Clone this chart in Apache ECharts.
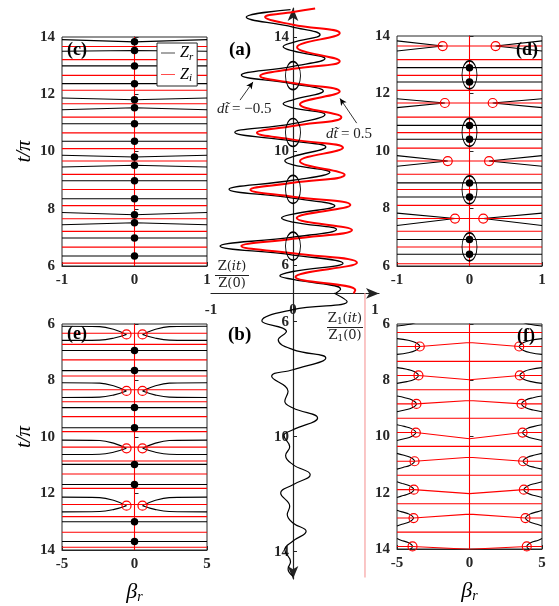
<!DOCTYPE html>
<html>
<head>
<meta charset="UTF-8">
<title></title>
<script src="https://cdn.jsdelivr.net/npm/echarts@6/dist/echarts.min.js"></script>
<style>
body{margin:0;background:#fff}
#main{width:559px;height:606px}
</style>
</head>
<body>
<div id="main"></div>
<script>
// ---- panel (a): Z(it)/Z(0), black dt=-0.5, red dt=0.5 (t/pi upward) ----
var aBlackT = [5.00, 5.15, 5.49, 5.62, 5.77, 6.06, 6.35, 6.665, 6.98, 7.25, 7.51, 7.65, 7.79, 8.08, 8.35, 8.665, 8.98, 9.26, 9.52, 9.665, 9.81, 10.15, 10.36, 10.665, 10.97, 11.29, 11.53, 11.67, 11.81, 12.12, 12.37, 12.68, 12.99, 13.26, 13.53, 13.68, 13.83, 14.10, 14.37, 14.72, 14.98];
var aBlackX = [0.52, 0.58, 0, -0.16, 0, 0.61, 0, -0.89, 0, 0.53, 0, -0.14, 0, 0.51, 0, -0.78, 0, 0.45, 0, -0.10, 0, 0.40, 0, -0.71, 0, 0.39, 0, -0.12, 0, 0.37, 0, -0.63, 0, 0.39, 0, -0.12, 0, 0.33, 0, -0.57, -0.03];
var aRedT = [5.00, 5.12, 5.58, 6.08, 6.41, 6.665, 6.92, 7.23, 7.65, 8.11, 8.40, 8.645, 8.89, 9.17, 9.65, 10.12, 10.41, 10.65, 10.89, 11.20, 11.65, 12.10, 12.40, 12.65, 12.90, 13.17, 13.66, 14.15, 14.45, 14.72, 14.90, 15.02];
var aRedX = [0.74, 0.76, 0.03, 0.78, 0, -0.63, 0, 0.72, 0.045, 0.70, 0, -0.52, 0, 0.63, 0.085, 0.61, 0, -0.44, 0, 0.59, 0.085, 0.57, 0, -0.40, 0, 0.57, 0.05, 0.57, 0, -0.34, 0, 0.27];
var aEllipseT = [6.665, 8.66, 10.66, 12.66];
var abTicks = [6, 10, 14];
var abXTicks = [-1, 0, 1];

// ---- panel (b): Z1(it)/Z1(0) (t/pi downward) ----
var bT = [5.00, 5.30, 5.58, 5.97, 6.34, 6.63, 6.97, 7.26, 7.67, 7.90, 8.42, 8.77, 9.00, 9.35, 9.76, 9.96, 10.35, 10.65, 10.97, 11.32, 11.67, 11.96, 12.42, 12.71, 13.00, 13.29, 13.63, 13.93, 14.35, 14.60, 14.85];
var bX = [0.50, 0.66, 0, -0.38, -0.08, -0.18, 0, 0.40, 0, -0.26, -0.06, -0.10, 0, 0.30, 0, -0.11, -0.04, -0.09, 0, 0.21, 0, -0.15, -0.04, -0.07, 0, 0.16, 0, -0.10, -0.03, -0.06, 0];
var bRedX = 0.878;

// ---- panel (c) ----
var cBlackBent = [[13.91, 13.83], [13.50, 13.53], [11.87, 11.81], [11.46, 11.53], [9.87, 9.81], [9.46, 9.52], [7.87, 7.79], [7.44, 7.51]];  // [edge, centre]
var cBlackFlat = [12.99, 12.37, 10.97, 10.36, 8.98, 8.35, 6.98, 6.35];
var cRed = [13.67, 13.21, 12.66, 12.14, 11.67, 11.20, 10.65, 10.10, 9.67, 9.20, 8.67, 8.11, 7.65, 7.21, 6.66, 6.10];
var cZeros = [13.83, 13.53, 12.99, 12.37, 11.81, 11.53, 10.97, 10.36, 9.81, 9.52, 8.98, 8.35, 7.79, 7.51, 6.98, 6.35];

// ---- panel (d) ----
var dBlackFlat = [12.90, 12.40, 10.89, 10.41, 8.89, 8.40, 6.92, 6.41];
var dRed = [13.65, 13.18, 12.63, 12.11, 11.67, 11.18, 10.64, 10.10, 9.65, 9.19, 8.66, 8.11, 7.65, 7.21, 6.66, 6.08];
var dRowT = [13.65, 11.67, 9.65, 7.65];
var dRowL = [-0.37, -0.34, -0.30, -0.20];
var dRowR = [0.36, 0.32, 0.27, 0.19];
var dRowUp = [13.83, 11.82, 9.84, 7.84];
var dRowDn = [13.48, 11.51, 9.47, 7.41];
var dEllipseT = [12.65, 10.65, 8.65, 6.665];

// ---- panel (e) (t/pi downward) ----
var eRowT = [6.37, 8.37, 10.40, 12.43];
var eRowB = [0.55, 0.55, 0.55, 0.55];
var eRowUp = [6.08, 8.08, 10.11, 12.13];
var eRowDn = [6.58, 8.60, 10.62, 12.65];
var eBlackFlat = [6.94, 7.65, 8.96, 9.67, 10.97, 11.68, 13.00, 13.70];
var eRed = [6.33, 6.72, 7.27, 7.84, 8.33, 8.75, 9.28, 9.81, 10.36, 10.85, 11.31, 11.82, 12.39, 12.82, 13.37, 13.90];
var eHairShape = [[5, 0], [2.4, 0.05], [1.4, 0.4]];   // [|beta|, fraction of the way to the circle]

// ---- panel (f) (t/pi downward) ----
var fRowT = [5.79, 6.80, 7.83, 8.84, 9.86, 10.88, 11.89, 12.90, 13.91];
var fRowL = [-3.35, -3.43, -3.52, -3.66, -3.70, -3.79, -3.84, -3.86, -3.93];
var fRowR = [3.35, 3.43, 3.47, 3.59, 3.66, 3.70, 3.75, 3.86, 3.95];
var fRowBend = [0, -0.14, 0.15, -0.12, 0.22, -0.14, 0.14, -0.14, 0.10];
var fRedMid = [6.30, 7.33, 8.34, 9.35, 10.35, 11.38, 12.39, 13.40];
var fHairShape = [[0, 0], [0.3, 0.14], [0.8, 0.22]];      // [beta from tip, dt]
var fHairEdge = 0.28;

var BLK = '#000000', RED = '#ff0000';
var GAP = [NaN, NaN];

function pairs(xs, ts) {
    var d = [];
    for (var i = 0; i < ts.length; i++) d.push([xs[i], ts[i]]);
    return d;
}
function flat(ts, x0, x1) {
    var d = [];
    ts.forEach(function (t) { d.push([x0, t], [x1, t], GAP); });
    return d;
}
function line(gi, data, color, w, smooth, name) {
    return {
        type: 'line', name: name, xAxisIndex: gi, yAxisIndex: gi, data: data,
        symbol: 'none', smooth: smooth || false, connectNulls: false, silent: true,
        color: color, lineStyle: {color: color, width: w}, z: 3
    };
}
function dots(gi, ts, size) {
    return {
        type: 'scatter', xAxisIndex: gi, yAxisIndex: gi, symbol: 'circle', symbolSize: size,
        data: ts.map(function (t) { return [0, t]; }), itemStyle: {color: BLK, opacity: 1}, silent: true, z: 5
    };
}
function rings(gi, data) {
    return {
        type: 'scatter', xAxisIndex: gi, yAxisIndex: gi, symbol: 'circle', symbolSize: 9, data: data,
        itemStyle: {color: 'rgba(0,0,0,0)', borderColor: RED, borderWidth: 1.2, opacity: 1}, silent: true, z: 6
    };
}
var ELL = 'path://M0 50 A50 50 0 1 1 100 50 A50 50 0 1 1 0 50 Z';
function ellipses(gi, ts) {
    return {
        type: 'scatter', xAxisIndex: gi, yAxisIndex: gi, symbol: ELL, symbolSize: [15, 28],
        data: ts.map(function (t) { return [0, t]; }),
        itemStyle: {color: 'rgba(0,0,0,0)', borderColor: BLK, borderWidth: 1.2, opacity: 1}, silent: true, z: 6
    };
}

// (c)
var cBent = [];
cBlackBent.forEach(function (p) { cBent.push([-1, p[0]], [0, p[1]], [1, p[0]], GAP); });
// (d)
var dHair = [];
dRowT.forEach(function (t, i) {
    dHair.push([-1, dRowUp[i]], [dRowL[i], t], [-1, dRowDn[i]], GAP);
    dHair.push([1, dRowUp[i]], [dRowR[i], t], [1, dRowDn[i]], GAP);
});
var dRings = [];
dRowT.forEach(function (t, i) { dRings.push([dRowL[i], t], [dRowR[i], t]); });
// (e)
var eHair = [];
eRowT.forEach(function (t, i) {
    [eRowUp[i], eRowDn[i]].forEach(function (edge) {
        [-1, 1].forEach(function (s) {
            eHairShape.forEach(function (p) { eHair.push([s * p[0], edge + p[1] * (t - edge)]); });
            eHair.push([s * eRowB[i], t], GAP);
        });
    });
});
var eRings = [];
eRowT.forEach(function (t, i) { eRings.push([-eRowB[i], t], [eRowB[i], t]); });
// (f)
var fHair = [];
fRowT.forEach(function (t, i) {
    [[fRowL[i], -1], [fRowR[i], 1]].forEach(function (side) {
        var tip = side[0], s = side[1];
        var pts = [[s * 5, t - fHairEdge]];
        for (var k = fHairShape.length - 1; k > 0; k--) pts.push([tip + s * fHairShape[k][0], t - fHairShape[k][1]]);
        pts.push([tip, t]);
        for (k = 1; k < fHairShape.length; k++) pts.push([tip + s * fHairShape[k][0], t + fHairShape[k][1]]);
        pts.push([s * 5, t + fHairEdge]);
        fHair = fHair.concat(pts);
        fHair.push(GAP);
    });
});
var fRedThru = [];
fRowT.forEach(function (t, i) {
    if (i === 0) return;
    fRedThru.push([-5, t], [fRowL[i], t], [0, t + fRowBend[i]], [fRowR[i], t], [5, t], GAP);
});
var fRings = [];
fRowT.forEach(function (t, i) { fRings.push([fRowL[i], t], [fRowR[i], t]); });

var FONT = 'Liberation Serif';
var boldRich = {b: {fontFamily: FONT, fontWeight: 'bold', fontSize: 15, color: '#262626'}};
function boldFmt(v) { return '{b|' + v + '}'; }
var tickLab = {fontFamily: FONT, fontWeight: 'bold', fontSize: 15, color: '#262626', margin: 7, formatter: boldFmt, rich: boldRich};
var axLine = {show: true, lineStyle: {color: '#262626', width: 1}};
var tick = {show: true, inside: true, length: 4, lineStyle: {color: '#262626'}};
var tName = {fontFamily: FONT, fontStyle: 'italic', fontSize: 21, color: '#000'};
var bName = {
    fontFamily: FONT, fontStyle: 'italic', fontSize: 22, color: '#000',
    rich: {b: {fontFamily: FONT, fontStyle: 'italic', fontSize: 22}, s: {fontFamily: FONT, fontStyle: 'italic', fontSize: 14, padding: [10, 0, 0, 0]}}
};
var arrowLine = {show: true, lineStyle: {color: '#222', width: 1.2}, symbolSize: [8, 13]};

function boxX(gi, lim, step, name) {
    return {
        gridIndex: gi, type: 'value', min: -lim, max: lim, interval: step, axisLine: axLine, axisTick: tick,
        axisLabel: tickLab, splitLine: {show: false},
        name: name, nameLocation: 'middle', nameGap: 30, nameTextStyle: bName
    };
}
function boxY(gi, inverse, name) {
    return {
        gridIndex: gi, type: 'value', min: 6, max: 14, interval: 2, inverse: inverse, axisLine: axLine, axisTick: tick,
        axisLabel: tickLab, splitLine: {show: false},
        name: name, nameLocation: 'middle', nameGap: 27, nameRotate: 90, nameTextStyle: tName
    };
}
function arrowY(gi, max, inverse) {
    return {
        gridIndex: gi, type: 'value', min: 5, max: max, inverse: inverse,
        axisLine: Object.assign({}, arrowLine, {onZero: false, symbol: inverse ? ['arrow', 'none'] : ['none', 'arrow']}),
        axisTick: {show: true, inside: true, length: 4, customValues: abTicks, lineStyle: {color: '#222'}},
        axisLabel: Object.assign({}, tickLab, {customValues: abTicks, margin: 4}),
        splitLine: {show: false}
    };
}

var chart = echarts.init(document.getElementById('main'));
chart.setOption({
    animation: false,
    backgroundColor: '#fff',
    grid: [
        {left: 62, top: 37, width: 145, height: 229, show: true, borderColor: '#262626', borderWidth: 1},
        {left: 397, top: 36, width: 145, height: 230, show: true, borderColor: '#262626', borderWidth: 1},
        {left: 62, top: 324, width: 145, height: 226, show: true, borderColor: '#262626', borderWidth: 1},
        {left: 397, top: 324, width: 145, height: 225, show: true, borderColor: '#262626', borderWidth: 1},
        {left: 211, top: 8, width: 168, height: 285.4},
        {left: 211, top: 293, width: 168, height: 286},
        // vertical axes of (a) and (b), standing on x = 0
        {left: 293, top: 8, width: 20, height: 285.4},
        {left: 293, top: 293, width: 20, height: 286}
    ],
    xAxis: [
        boxX(0, 1, 1, ''),
        boxX(1, 1, 1, ''),
        boxX(2, 5, 5, '{b|β}{s|r}'),
        boxX(3, 5, 5, '{b|β}{s|r}'),
        {
            gridIndex: 4, type: 'value', min: -1, max: 1.049,
            axisLine: Object.assign({}, arrowLine, {symbol: ['none', 'arrow']}),
            axisTick: {show: false},
            axisLabel: Object.assign({}, tickLab, {customValues: abXTicks, margin: 9}),
            splitLine: {show: false}
        },
        {gridIndex: 5, type: 'value', min: -1, max: 1.049, show: false},
        {gridIndex: 6, type: 'value', show: false},
        {gridIndex: 7, type: 'value', show: false}
    ],
    yAxis: [
        boxY(0, false, 't/π'),
        boxY(1, false, ''),
        boxY(2, true, 't/π'),
        boxY(3, true, ''),
        {gridIndex: 4, type: 'value', min: 5, max: 15.04, show: false},
        {gridIndex: 5, type: 'value', min: 5, max: 14.95, inverse: true, show: false},
        arrowY(6, 15.04, false),
        arrowY(7, 14.95, true)
    ],
    legend: {
        left: 157, top: 43, orient: 'vertical',
        data: [
            {name: 'Zr', icon: 'path://M0 0 L20 0 L20 1 L0 1 Z'},
            {name: 'Zi', icon: 'path://M0 0 L20 0 L20 1 L0 1 Z'}
        ],
        backgroundColor: '#fff', borderColor: '#262626', borderWidth: 1, borderRadius: 0,
        padding: [2, 4, 2, 4], itemGap: 4, itemWidth: 14, itemHeight: 1.2,
        formatter: function (n) { return '{z|Z}{s|' + n.charAt(1) + '}'; },
        textStyle: {
            rich: {
                z: {fontFamily: FONT, fontStyle: 'italic', fontSize: 16, color: '#000'},
                s: {fontFamily: FONT, fontStyle: 'italic', fontSize: 11, color: '#000', padding: [8, 0, 0, 0]}
            }
        }
    },
    series: [
        // (c)
        line(0, flat(cBlackFlat, -1, 1).concat(cBent), BLK, 1.1, false, 'Zr'),
        line(0, flat(cRed, -1, 1).concat([[0, 6], [0, 14]]), RED, 1.1, false, 'Zi'),
        dots(0, cZeros, 7.5),
        // (d)
        line(1, flat(dBlackFlat, -1, 1).concat(dHair), BLK, 1.1),
        line(1, flat(dRed, -1, 1).concat([[0, 6], [0, 14]]), RED, 1.1),
        dots(1, dBlackFlat, 7.5),
        rings(1, dRings),
        ellipses(1, dEllipseT),
        // (e)
        line(2, flat(eBlackFlat, -5, 5), BLK, 1.1),
        line(2, eHair, BLK, 1.1, 0.4),
        line(2, flat(eRed, -5, 5).concat([[0, 6], [0, 14]]), RED, 1.1),
        dots(2, eBlackFlat, 7.5),
        rings(2, eRings),
        // (f)
        line(3, fHair, BLK, 1.1, 0.4),
        line(3, flat(fRedMid, -5, 5).concat(fRedThru).concat([[0, 6], [0, 14]]), RED, 1.1),
        rings(3, fRings),
        // (a)
        {
            type: 'line', xAxisIndex: 4, yAxisIndex: 4, data: pairs(aBlackX, aBlackT), symbol: 'none', smooth: 0.45,
            color: BLK, lineStyle: {color: BLK, width: 1.3}, silent: true, z: 3,
            markLine: {
                silent: true, symbol: ['none', 'arrow'], symbolSize: [5, 7], label: {show: false},
                lineStyle: {color: '#000', width: 0.8, type: 'solid'},
                data: [
                    [{coord: [-0.646, 11.80]}, {coord: [-0.488, 12.44]}],
                    [{coord: [0.777, 10.99]}, {coord: [0.573, 11.86]}]
                ]
            }
        },
        line(4, pairs(aRedX, aRedT), RED, 2, 0.45),
        ellipses(4, aEllipseT),
        // (b)
        line(5, pairs(bX, bT), BLK, 1.2, 0.45),
        line(5, [[bRedX, 5], [bRedX, 14.9]], '#f7a0a0', 1.2)
    ],
    graphic: [
        {type: 'text', left: 67, top: 41, style: {text: '(c)', font: 'bold 18px "Liberation Serif"', fill: '#000'}, z: 20},
        {type: 'text', left: 516, top: 41, style: {text: '(d)', font: 'bold 18px "Liberation Serif"', fill: '#000'}, z: 20},
        {type: 'text', left: 67, top: 325, style: {text: '(e)', font: 'bold 18px "Liberation Serif"', fill: '#000'}, z: 20},
        {type: 'text', left: 517, top: 327, style: {text: '(f)', font: 'bold 18px "Liberation Serif"', fill: '#000'}, z: 20},
        {type: 'text', left: 229, top: 41, style: {text: '(a)', font: 'bold 19px "Liberation Serif"', fill: '#000'}, z: 20},
        {type: 'text', left: 228, top: 326, style: {text: '(b)', font: 'bold 19px "Liberation Serif"', fill: '#000'}, z: 20},
        {
            type: 'text', left: 217, top: 102, z: 20,
            style: {text: '{i|dt̃} {n|= −0.5}', rich: {i: {font: 'italic 15px "Liberation Serif"', fill: '#222'}, n: {font: '15px "Liberation Serif"', fill: '#222'}}}
        },
        {
            type: 'text', left: 326, top: 127, z: 20,
            style: {text: '{i|dt̃} {n|= 0.5}', rich: {i: {font: 'italic 15px "Liberation Serif"', fill: '#222'}, n: {font: '15px "Liberation Serif"', fill: '#222'}}}
        },
        {
            type: 'text', x: 232, y: 267, z: 20,
            style: {text: '{n|Z(}{i|it}{n|)}', align: 'center', verticalAlign: 'middle', rich: {n: {font: '13px "DejaVu Serif"', fill: '#222'}, i: {font: 'italic 13px "DejaVu Serif"', fill: '#222'}}}
        },
        {type: 'line', shape: {x1: 215, y1: 275.5, x2: 249, y2: 275.5}, style: {stroke: '#222', lineWidth: 1}, z: 20},
        {
            type: 'text', x: 232, y: 284, z: 20,
            style: {text: 'Z(0)', font: '13px "DejaVu Serif"', fill: '#222', align: 'center', verticalAlign: 'middle'}
        },
        {
            type: 'text', x: 345, y: 319, z: 20,
            style: {text: '{n|Z}{s|1}{n|(}{i|it}{n|)}', align: 'center', verticalAlign: 'middle', rich: {n: {font: '13px "DejaVu Serif"', fill: '#222'}, i: {font: 'italic 13px "DejaVu Serif"', fill: '#222'}, s: {font: '9px "DejaVu Serif"', fill: '#222', padding: [6, 0, 0, 0]}}}
        },
        {type: 'line', shape: {x1: 327, y1: 327.5, x2: 363, y2: 327.5}, style: {stroke: '#222', lineWidth: 1}, z: 20},
        {
            type: 'text', x: 345, y: 336, z: 20,
            style: {text: '{n|Z}{s|1}{n|(0)}', align: 'center', verticalAlign: 'middle', rich: {n: {font: '13px "DejaVu Serif"', fill: '#222'}, s: {font: '9px "DejaVu Serif"', fill: '#222', padding: [6, 0, 0, 0]}}}
        }
    ]
});
</script>
</body>
</html>
